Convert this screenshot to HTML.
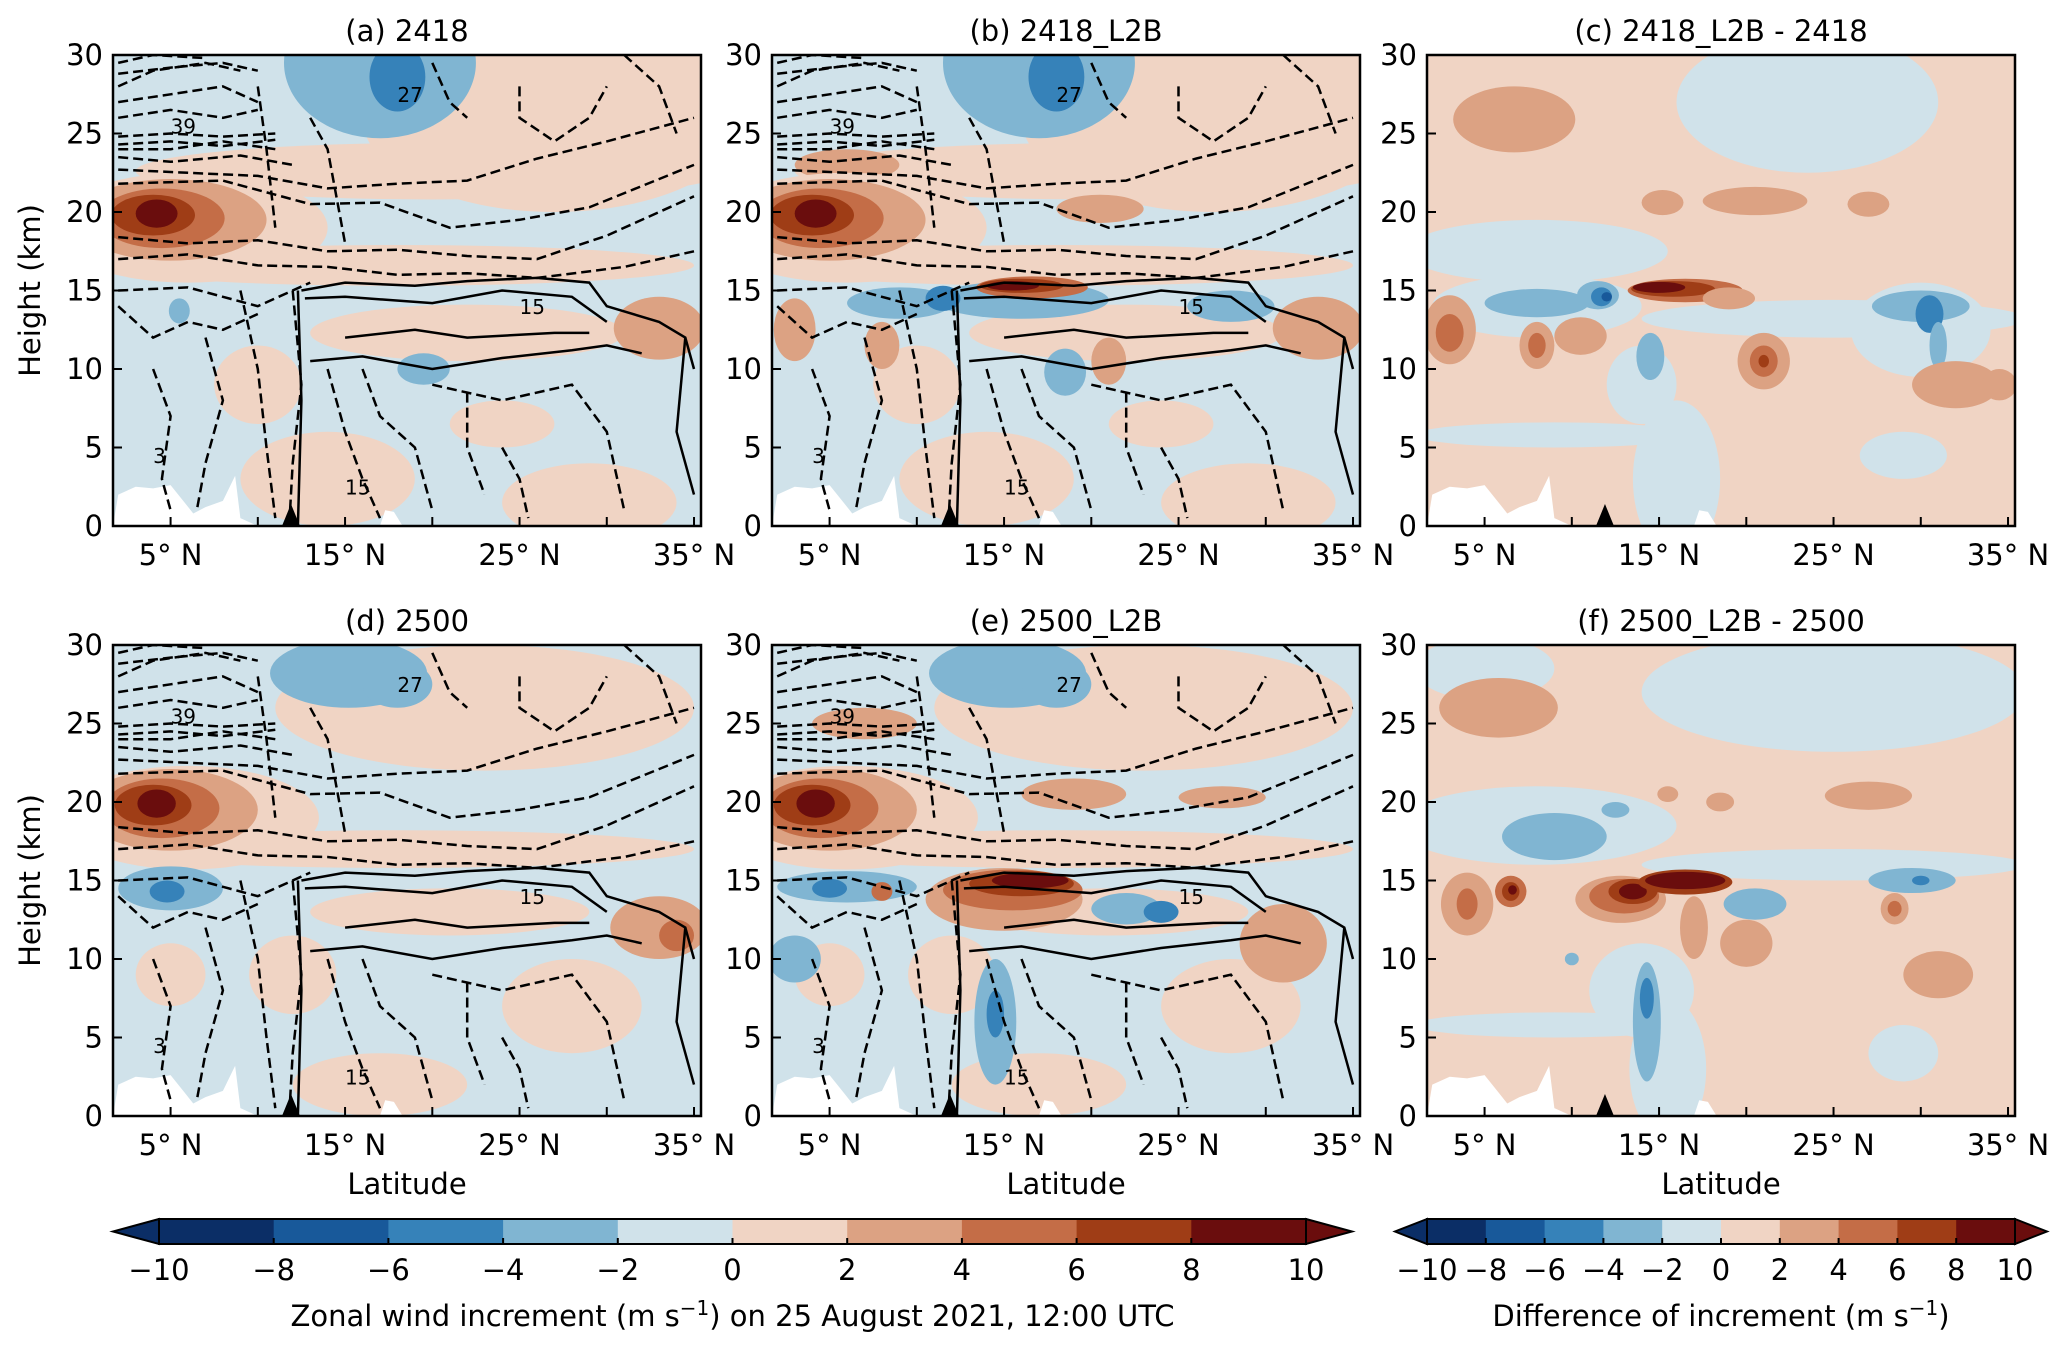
<!DOCTYPE html>
<html><head><meta charset="utf-8"><style>
html,body{margin:0;padding:0;background:#fff;}
svg{display:block;font-family:"DejaVu Sans","Liberation Sans",sans-serif;}
</style></head><body>
<svg id="fig" width="2067" height="1353" viewBox="0 0 2067 1353" xmlns="http://www.w3.org/2000/svg">
<defs></defs>
</svg>
<script>
// colour levels (index 0..9 => -10..10 step 2)
const levelEdges = [-10,-8,-6,-4,-2,0,2,4,6,8,10];
const levelColors = ["#0b2e66","#18599a","#3682b9","#80b5d2","#d0e2ea","#f0d4c4","#dca283","#c46d47","#9f3d16","#6a0d0d"];
const xTickLabels = ["5° N","15° N","25° N","35° N"];
const xTickValues = [5,10,15,20,25,30,35];
const xLabelValues = [5,15,25,35];
const yTickValues = [0,5,10,15,20,25,30];
const latMin = 1.7, latMax = 35.4, hMax = 30;

// blobs: [lat, height, rxDeg, ryKm, levelIndex]
const blobsA = [
 [27,26,11,6,5],[20,22.6,17,1.8,5],[18,16.6,17,1.3,5],[22,12.3,9,1.8,5],[10,9,2.5,2.5,5],[14,3,5,3,5],[29,1.5,5,2.5,5],[24,6.5,3,1.5,5],
 [17,29.5,5.5,4.8,3],[18,28.6,1.6,2.2,2],
 [6,19,8,3.5,5],[5,19.5,5.5,2.6,6],[4.5,19.6,3.6,1.9,7],[4,19.8,2.4,1.3,8],[4.2,19.9,1.2,0.9,9],
 [33,12.6,2.6,2,6],[19.5,10,1.5,1,3],[5.5,13.7,0.6,0.8,3]
];
const blobsB = [
 [27,26,11,6,5],[20,22.6,17,1.8,5],[18,16.6,17,1.3,5],[22,12.3,9,1.8,5],[10,9,2.5,2.5,5],[14,3,5,3,5],[29,1.5,5,2.5,5],[24,6.5,3,1.5,5],
 [17,29.5,5.5,4.8,3],[18,28.6,1.6,2.2,2],[6,23,3,1,6],
 [6,19,8,3.5,5],[5,19.5,5.5,2.6,6],[4.5,19.6,3.6,1.9,7],[4,19.8,2.4,1.3,8],[4.2,19.9,1.2,0.9,9],
 [20.5,20.2,2.5,0.9,6],[33,12.6,2.6,2,6],[3,12.5,1.2,2,6],[8,11.5,1,1.5,6],
 [16,14.4,5,1.2,3],[9,14.2,3,1,3],[11.5,14.5,1,0.8,2],[28,14,2.5,1,3],[18.5,9.8,1.2,1.5,3],
 [16.6,15.2,3.2,0.7,7],[16,15.3,2.4,0.45,8],[15.5,15.3,1.5,0.3,9],[21,10.5,1,1.5,6]
];
const blobsC = [
 [23.5,27,7.5,4.5,4],[6.7,25.9,3.5,2.1,6],
 [8,17.5,7.5,2,4],[25,13.2,11,1.2,4],[8,14,6,2,4],[14,9,2,2.5,4],[16,3,2.5,5,4],[9,5.8,8,0.8,4],[30,12.5,4,3,4],[29,4.5,2.5,1.5,4],
 [20.5,20.7,3,0.9,6],[15.2,20.6,1.2,0.8,6],[27,20.5,1.2,0.8,6],
 [3,12.5,1.5,2.2,6],[3,12.3,0.8,1.2,7],[8,11.5,1,1.5,6],[8,11.5,0.5,0.8,7],[10.5,12.1,1.5,1.2,6],
 [8,14.2,3,0.9,3],[11.5,14.7,1.2,0.9,3],[11.7,14.6,0.6,0.6,2],[12,14.6,0.3,0.3,1],[14.5,10.8,0.8,1.5,3],
 [30,14,2.8,1,3],[30.5,13.5,0.8,1.2,2],[31,11.5,0.5,1.5,3],
 [16.5,15,3.3,0.75,7],[15.8,15.1,2.4,0.5,8],[15,15.2,1.5,0.35,9],[19,14.5,1.5,0.7,6],
 [21,10.5,1.5,1.8,6],[21,10.5,0.8,1,7],[21,10.5,0.3,0.4,8],[32,9,2.5,1.5,6],[34.5,9,1,1,6]
];
const blobsD = [
 [23,26,12,4,5],[6,28,5,2,4],[15.2,28.2,4.5,2.2,3],[18,27.5,2,1.5,3],
 [18,17,17,1.2,5],[21,13,8,1.5,5],[12,9,2.5,2.5,5],[17,2,5,2,5],[28,7,4,3,5],[5,9,2,2,5],
 [6,19,7.5,3.3,5],[5,19.5,5,2.6,6],[4.5,19.6,3.3,1.9,7],[4,19.8,2.2,1.3,8],[4.2,19.9,1.1,0.9,9],
 [5,14.5,3,1.4,3],[4.8,14.3,1,0.7,2],[33,12,2.8,2,6],[34,11.5,1,1,7]
];
const blobsE = [
 [23,26,12,4,5],[6,28,5,2,4],[15.2,28.2,4.5,2.2,3],[18,27.5,2,1.5,3],
 [18,17,17,1.2,5],[21,13,8,1.5,5],[12,9,2.5,2.5,5],[17,2,5,2,5],[28,7,4,3,5],[5,9,2,2,5],
 [6,19,7.5,3.3,5],[5,19.5,5,2.6,6],[4.5,19.6,3.3,1.9,7],[4,19.8,2.2,1.3,8],[4.2,19.9,1.1,0.9,9],
 [7,25,3,1,6],[19,20.5,3,1,6],[27.5,20.3,2.5,0.7,6],
 [6,14.6,4,1,3],[5,14.5,1,0.6,2],[22,13.2,2,1,3],[24,13,1,0.7,2],[3,10,1.5,1.5,3],
 [15,13.8,4.5,2,6],[15.5,14.4,4,1.3,7],[16,14.8,3,0.8,8],[16.5,15,2.2,0.5,9],
 [14.5,6,1.2,4,3],[14.5,6.5,0.5,1.5,2],[31,11,2.5,2.5,6],[8,14.3,0.6,0.6,7]
];
const blobsF = [
 [25,27,11,3.8,4],[5,28.5,4,2,4],[8,18.5,8,2.5,4],[25,16,11,1,4],[14,8,3,3,4],[15.5,3,2.2,4.5,4],[9,5.8,8,0.8,4],[29,4,2,1.8,4],
 [5.8,26,3.4,1.9,6],[27,20.4,2.5,0.9,6],[15.5,20.5,0.6,0.5,6],[18.5,20,0.8,0.6,6],
 [9,17.8,3,1.5,3],[12.5,19.5,0.8,0.5,3],[29.5,15,2.5,0.8,3],[30,15,0.5,0.3,2],[20.5,13.5,1.8,1,3],
 [4,13.5,1.5,2,6],[4,13.5,0.6,1,7],[6.5,14.3,0.9,1,7],[6.5,14.3,0.5,0.6,8],[6.6,14.4,0.25,0.3,9],
 [12.8,13.8,2.6,1.5,6],[13,14,2,1.1,7],[13.5,14.3,1.4,0.8,8],[13.5,14.3,0.8,0.5,9],
 [16.5,14.9,2.7,0.8,8],[16.5,15,2.3,0.55,9],[17,12,0.8,2,6],[20,11,1.5,1.5,6],[28.5,13.2,0.8,1,6],[28.5,13.2,0.4,0.5,7],[31,9,2,1.5,6],
 [14.3,6,0.8,3.8,3],[14.3,7.5,0.4,1.3,2],[10,10,0.4,0.4,3]
];
const bgLevels = [4,4,5,4,4,5];

const dashedLines = [
 [[2,29.5],[4,30],[7,29.8]], [[2,28.8],[5,29.2],[8,29.5],[10,29]], [[2,28],[4,29],[7,29.5],[9,29]], [[2,27],[5,27.5],[8,28],[10,27]],
 [[2,26],[5,26.5],[8,26],[10,26.5]],
 [[2,24.8],[5,25],[8,24.8],[11,25]], [[2,24.3],[5,24.5],[8,24.2],[11,24.6]],
 [[2,24],[5,24],[8,24.5],[11,24]], [[2,23.5],[5,23.2],[9,23.6],[12,23]],
 [[2,22.7],[6,22.5],[10,22.3],[14,21.5],[18,21.8],[22,22],[26,23.4],[30,24.5],[35,26]],
 [[2,21.8],[8,22],[13,20.5],[17,20.6],[21,19],[25,19.5],[29,20.3],[35,23]],
 [[2,18.4],[6,18],[10,18.2],[14,17.5],[18,17.6],[22,17.2],[26,17],[30,18.5],[35,21]],
 [[2,17],[6,17.3],[10,16.6],[14,16.5],[18,16],[22,16.1],[26,15.8],[31,16.5],[35,17.5]],
 [[2,15],[6,15.2],[10,14],[13,15.5]], [[2,14],[4,12],[6,13],[8,12.5],[10,13.5]],
 [[7,12],[8,8],[7,4],[6.5,1]], [[9,15],[10,10],[10.5,5],[11,0.5]], [[4,10],[5,7],[4.5,3],[5,1]],
 [[12,15],[12.5,9],[12,4],[11.8,0]], [[14,10],[15,6],[16,3],[17,0.5]], [[16,10],[17,7],[19,5],[20,1]],
 [[20,9],[24,8],[28,9],[30,6],[31,1]], [[24,5],[25,3],[25.5,0.5]], [[22,8.5],[22,5],[23,2]],
 [[13,26],[14,24],[15,18]], [[10,28],[10.5,24],[11,19]], [[25,28],[25,26],[27,24.5],[29,26],[30,28]],
 [[20,29.5],[21,27],[22,26]], [[31,30],[33,28],[34,25]]
];
const solidLines = [
 [[12.5,15],[15,15.5],[19,15.3],[22,15.6],[26,15.8],[29,15.5],[30,14],[33,13],[34.5,12],[35,10]],
 [[12.7,14.5],[15,14.6],[20,14.2],[24,15],[28,14.6],[30,13]],
 [[13,10.5],[16,10.8],[20,10],[24,10.7],[28,11.2],[30,11.5],[32,11]],
 [[15,12],[19,12.5],[22,12],[27,12.3],[29,12.3]],
 [[12.3,15],[12.5,8],[12.3,0]], [[34.5,12],[34,6],[35,2]]
];

const panels = [
 {id:"a",title:"(a) 2418",x0:113,y0:55,blobs:blobsA,contours:true},
 {id:"b",title:"(b) 2418_L2B",x0:772,y0:55,blobs:blobsB,contours:true},
 {id:"c",title:"(c) 2418_L2B - 2418",x0:1427,y0:55,blobs:blobsC,contours:false},
 {id:"d",title:"(d) 2500",x0:113,y0:645,blobs:blobsD,contours:true},
 {id:"e",title:"(e) 2500_L2B",x0:772,y0:645,blobs:blobsE,contours:true},
 {id:"f",title:"(f) 2500_L2B - 2500",x0:1427,y0:645,blobs:blobsF,contours:false}
];
const PW=588, PH=471, FS=29;
const NS="http://www.w3.org/2000/svg";
const svg=document.getElementById('fig');
function mk(tag,attrs,parent){const e=document.createElementNS(NS,tag);for(const k in attrs)e.setAttribute(k,attrs[k]);(parent||svg).appendChild(e);return e;}

panels.forEach((p,pi)=>{
 const xs=lat=>p.x0+(lat-latMin)/(latMax-latMin)*PW;
 const ys=h=>p.y0+PH-h/hMax*PH;
 const sx=d=>d/(latMax-latMin)*PW, sy=d=>d/hMax*PH;
 const cp=mk('clipPath',{id:'clip'+p.id},svg.querySelector('defs'));
 mk('rect',{x:p.x0,y:p.y0,width:PW,height:PH},cp);
 const g=mk('g',{'clip-path':'url(#clip'+p.id+')'});
 
 
 mk('rect',{x:p.x0,y:p.y0,width:PW,height:PH,fill:levelColors[bgLevels[pi]]},g);
 p.blobs.forEach(b=>{
  const e=mk('ellipse',{cx:xs(b[0]),cy:ys(b[1]),rx:sx(b[2]),ry:sy(b[3]),fill:levelColors[b[4]]},g);
  
  
 });
 const terr=[[1.7,0],[2,2],[3,2.5],[4,2.4],[5,2.6],[5.8,1.5],[6.3,0.8],[7,1.2],[8,1.6],[8.7,3.2],[9,0.5],[10,0],[17,0],[17.3,1],[17.8,0.9],[18.3,0]];
 const tp=mk('path',{d:'M'+terr.map(t=>xs(t[0])+','+ys(t[1])).join('L')+'Z',fill:'#fff'},g);
 
 
 if(p.contours){
  const line=d3=>'M'+d3.map(t=>xs(t[0]).toFixed(1)+','+ys(t[1]).toFixed(1)).join('L');
  dashedLines.forEach(l=>{const e=mk('path',{d:line(l),fill:'none',stroke:'#000','stroke-width':2.5,'stroke-dasharray':'10,5'},g);
   
   });
  solidLines.forEach(l=>{const e=mk('path',{d:line(l),fill:'none',stroke:'#000','stroke-width':2.5},g);
   
   });
  [["39",5,25],["3",4,4],["15",15,2],["27",18,27],["15",25,13.5]].forEach(t=>{
   const e=mk('text',{x:xs(t[1]),y:ys(t[2]),'font-size':20,fill:'#000'},g);e.textContent=t[0];
   
   });
 }
 const tri=mk('path',{d:`M${xs(11.9)-9},${ys(0)}L${xs(11.9)},${ys(0)-22}L${xs(11.9)+9},${ys(0)}Z`,fill:'#000'});
 
 
 const fr=mk('rect',{x:p.x0,y:p.y0,width:PW,height:PH,fill:'none',stroke:'#000','stroke-width':2.5});
 
 
 xTickValues.forEach(v=>{const t=mk('line',{x1:xs(v),x2:xs(v),y1:ys(0),y2:ys(0)-9,stroke:'#000','stroke-width':2});
  
  });
 xLabelValues.forEach((v,i)=>{const t=mk('text',{x:xs(v),y:p.y0+PH+39,'font-size':FS,'text-anchor':'middle'});t.textContent=xTickLabels[i];
  
  });
 yTickValues.forEach(v=>{const t=mk('line',{x1:p.x0,x2:p.x0+9,y1:ys(v),y2:ys(v),stroke:'#000','stroke-width':2});
  
  
  const l=mk('text',{x:p.x0-10,y:ys(v)+10,'font-size':FS,'text-anchor':'end'});l.textContent=v;
  
  });
 const ti=mk('text',{x:p.x0+PW/2,y:p.y0-14,'font-size':FS,'text-anchor':'middle'});ti.textContent=p.title;
 
 
 if(p.id==='a'||p.id==='d'){
  const yl=mk('text',{x:0,y:0,'font-size':FS,'text-anchor':'middle',transform:`translate(40,${p.y0+PH/2}) rotate(-90)`});yl.textContent='Height (km)';
  
  
 }
 if(p.y0>600){
  const xl=mk('text',{x:p.x0+PW/2,y:1194,'font-size':FS,'text-anchor':'middle'});xl.textContent='Latitude';
  
  
 }
});

const cbTickLabels=["−10","−8","−6","−4","−2","0","2","4","6","8","10"];
function colorbar(x0,x1,tri,title,name){
 const y0=1219,h=25,w=(x1-x0)/10;
 const g=mk('g',{});
 
 
 mk('path',{d:`M${x0},${y0}L${x0-tri},${y0+h/2}L${x0},${y0+h}Z`,fill:levelColors[0],stroke:'#000','stroke-width':2},g);
 mk('path',{d:`M${x1},${y0}L${x1+tri},${y0+h/2}L${x1},${y0+h}Z`,fill:levelColors[9],stroke:'#000','stroke-width':2},g);
 levelColors.forEach((c,i)=>mk('rect',{x:x0+i*w,y:y0,width:w+0.5,height:h,fill:c},g));
 mk('rect',{x:x0,y:y0,width:x1-x0,height:h,fill:'none',stroke:'#000','stroke-width':2},g);
 levelEdges.forEach((v,i)=>{
  mk('line',{x1:x0+i*w,x2:x0+i*w,y1:y0+h,y2:y0+h-6,stroke:'#000','stroke-width':2},g);
  const t=mk('text',{x:x0+i*w,y:y0+h+36,'font-size':FS,'text-anchor':'middle'},g);t.textContent=cbTickLabels[i];
  
  
 });
 const t=mk('text',{x:(x0+x1)/2,y:1326,'font-size':FS,'text-anchor':'middle'},g);
 t.innerHTML=title;
 
 
}
colorbar(159,1306,46,'Zonal wind increment (m s<tspan dy="-11" font-size="20">−1</tspan><tspan dy="11">) on 25 August 2021, 12:00 UTC</tspan>','colorbar-increment');
colorbar(1427,2015,32,'Difference of increment (m s<tspan dy="-11" font-size="20">−1</tspan><tspan dy="11">)</tspan>','colorbar-difference');
</script>
</body></html>
